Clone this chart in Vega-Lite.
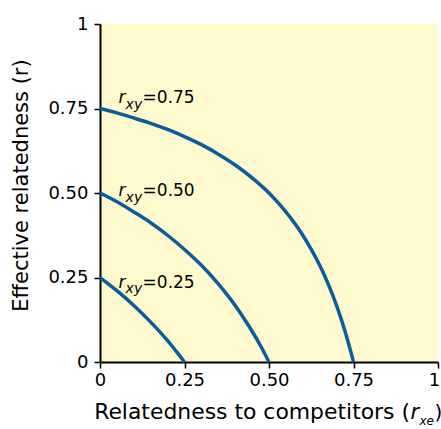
{
  "$schema": "https://vega.github.io/schema/vega-lite/v6.json",
  "width": 338,
  "height": 338,
  "autosize": "none",
  "padding": {"left": 100, "top": 24, "right": 3, "bottom": 67},
  "background": "white",
  "config": {
    "view": {"fill": "#fffacd", "stroke": null},
    "font": "DejaVu Sans",
    "axis": {
      "domainColor": "black",
      "domainWidth": 2,
      "tickColor": "black",
      "tickWidth": 1.5,
      "tickSize": 6,
      "grid": false,
      "labelFont": "DejaVu Sans",
      "labelFontSize": 18,
      "labelColor": "black",
      "titleFont": "DejaVu Sans",
      "titleFontSize": 21,
      "titleFontWeight": "normal",
      "titleColor": "black",
      "titleLimit": 1000,
      "labelOverlap": false,
      "labelFlush": false
    }
  },
  "datasets": {
    "curves": [
      {"rxy": 0.75, "rxe": 0, "r": 0.75},
      {"rxy": 0.75, "rxe": 0.05, "r": 0.737},
      {"rxy": 0.75, "rxe": 0.1, "r": 0.722},
      {"rxy": 0.75, "rxe": 0.15, "r": 0.706},
      {"rxy": 0.75, "rxe": 0.2, "r": 0.688},
      {"rxy": 0.75, "rxe": 0.25, "r": 0.667},
      {"rxy": 0.75, "rxe": 0.3, "r": 0.643},
      {"rxy": 0.75, "rxe": 0.35, "r": 0.615},
      {"rxy": 0.75, "rxe": 0.4, "r": 0.583},
      {"rxy": 0.75, "rxe": 0.45, "r": 0.545},
      {"rxy": 0.75, "rxe": 0.5, "r": 0.5},
      {"rxy": 0.75, "rxe": 0.55, "r": 0.444},
      {"rxy": 0.75, "rxe": 0.6, "r": 0.375},
      {"rxy": 0.75, "rxe": 0.625, "r": 0.333},
      {"rxy": 0.75, "rxe": 0.65, "r": 0.286},
      {"rxy": 0.75, "rxe": 0.675, "r": 0.231},
      {"rxy": 0.75, "rxe": 0.7, "r": 0.167},
      {"rxy": 0.75, "rxe": 0.725, "r": 0.091},
      {"rxy": 0.75, "rxe": 0.75, "r": 0},
      {"rxy": 0.5, "rxe": 0, "r": 0.5},
      {"rxy": 0.5, "rxe": 0.05, "r": 0.474},
      {"rxy": 0.5, "rxe": 0.1, "r": 0.444},
      {"rxy": 0.5, "rxe": 0.15, "r": 0.412},
      {"rxy": 0.5, "rxe": 0.2, "r": 0.375},
      {"rxy": 0.5, "rxe": 0.25, "r": 0.333},
      {"rxy": 0.5, "rxe": 0.3, "r": 0.286},
      {"rxy": 0.5, "rxe": 0.35, "r": 0.231},
      {"rxy": 0.5, "rxe": 0.4, "r": 0.167},
      {"rxy": 0.5, "rxe": 0.425, "r": 0.13},
      {"rxy": 0.5, "rxe": 0.45, "r": 0.091},
      {"rxy": 0.5, "rxe": 0.475, "r": 0.048},
      {"rxy": 0.5, "rxe": 0.5, "r": 0},
      {"rxy": 0.25, "rxe": 0, "r": 0.25},
      {"rxy": 0.25, "rxe": 0.05, "r": 0.211},
      {"rxy": 0.25, "rxe": 0.1, "r": 0.167},
      {"rxy": 0.25, "rxe": 0.15, "r": 0.118},
      {"rxy": 0.25, "rxe": 0.2, "r": 0.063},
      {"rxy": 0.25, "rxe": 0.225, "r": 0.032},
      {"rxy": 0.25, "rxe": 0.25, "r": 0}
    ],
    "labels": [
      {"rxy": 0.75, "value": "=0.75", "lx": 0.055, "ly": 0.766},
      {"rxy": 0.5, "value": "=0.50", "lx": 0.055, "ly": 0.491},
      {"rxy": 0.25, "value": "=0.25", "lx": 0.055, "ly": 0.22}
    ],
    "one": [{}]
  },
  "layer": [
    {
      "data": {"name": "curves"},
      "mark": {"type": "line", "color": "#0b5c9e", "strokeWidth": 3.5, "interpolate": "monotone", "strokeCap": "butt"},
      "encoding": {
        "x": {
          "field": "rxe", "type": "quantitative",
          "title": null,
          "scale": {"domain": [0, 1], "nice": false, "zero": false},
          "axis": {
            "values": [0, 0.25, 0.5, 0.75, 1],
            "labelExpr": "datum.value == 0 ? '0' : datum.value == 1 ? '1' : format(datum.value, '.2f')",
            "labelOffset": {"condition": {"test": "datum.value == 1", "value": -4}, "value": 0},
            "labelPadding": 3
          }
        },
        "y": {
          "field": "r", "type": "quantitative",
          "title": "Effective relatedness (r)",
          "scale": {"domain": [0, 1], "nice": false, "zero": false},
          "axis": {
            "values": [0, 0.25, 0.5, 0.75, 1],
            "labelExpr": "datum.value == 0 ? '0' : datum.value == 1 ? '1' : format(datum.value, '.2f')",
            "labelPadding": 6,
            "titleAngle": 270,
            "titleX": -72.2,
            "titleY": 161,
            "titleAlign": "center",
            "titleBaseline": "alphabetic"
          }
        },
        "detail": {"field": "rxy", "type": "nominal"}
      }
    },
    {
      "data": {"name": "labels"},
      "mark": {"type": "text", "font": "DejaVu Sans", "fontStyle": "italic", "fontSize": 17, "align": "left", "baseline": "alphabetic", "color": "black"},
      "encoding": {
        "x": {"field": "lx", "type": "quantitative", "title": null},
        "y": {"field": "ly", "type": "quantitative", "title": "Effective relatedness (r)"},
        "text": {"value": "r"}
      }
    },
    {
      "data": {"name": "labels"},
      "mark": {"type": "text", "font": "DejaVu Sans", "fontStyle": "italic", "fontSize": 14, "align": "left", "baseline": "alphabetic", "color": "black", "dx": 7, "dy": 5.5},
      "encoding": {
        "x": {"field": "lx", "type": "quantitative", "title": null},
        "y": {"field": "ly", "type": "quantitative", "title": "Effective relatedness (r)"},
        "text": {"value": "xy"}
      }
    },
    {
      "data": {"name": "labels"},
      "mark": {"type": "text", "font": "DejaVu Sans", "fontSize": 17, "align": "left", "baseline": "alphabetic", "color": "black", "dx": 24},
      "encoding": {
        "x": {"field": "lx", "type": "quantitative", "title": null},
        "y": {"field": "ly", "type": "quantitative", "title": "Effective relatedness (r)"},
        "text": {"field": "value", "type": "nominal"}
      }
    },
    {
      "data": {"name": "one"},
      "mark": {"type": "text", "font": "DejaVu Sans", "fontSize": 21.9, "align": "right", "baseline": "alphabetic", "color": "black"},
      "encoding": {
        "x": {"datum": 0.9172},
        "y": {"datum": -0.1675},
        "text": {"value": "Relatedness to competitors ("}
      }
    },
    {
      "data": {"name": "one"},
      "mark": {"type": "text", "font": "DejaVu Sans", "fontStyle": "italic", "fontSize": 21, "align": "left", "baseline": "alphabetic", "color": "black"},
      "encoding": {
        "x": {"datum": 0.9186},
        "y": {"datum": -0.1675},
        "text": {"value": "r"}
      }
    },
    {
      "data": {"name": "one"},
      "mark": {"type": "text", "font": "DejaVu Sans", "fontStyle": "italic", "fontSize": 12, "align": "left", "baseline": "alphabetic", "color": "black"},
      "encoding": {
        "x": {"datum": 0.9453},
        "y": {"datum": -0.1858},
        "text": {"value": "xe"}
      }
    },
    {
      "data": {"name": "one"},
      "mark": {"type": "text", "font": "DejaVu Sans", "fontSize": 20, "align": "left", "baseline": "alphabetic", "color": "black"},
      "encoding": {
        "x": {"datum": 0.9896},
        "y": {"datum": -0.1675},
        "text": {"value": ")"}
      }
    }
  ]
}
